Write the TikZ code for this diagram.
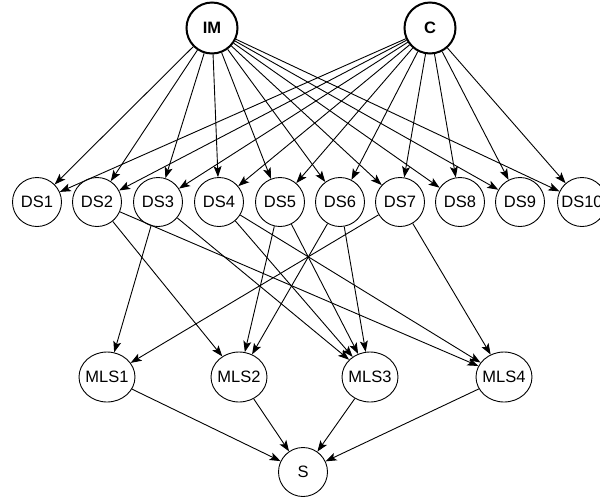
\documentclass[tikz,border=0pt]{standalone}
\usepackage{fontspec}
\setmainfont{Liberation Sans}
\usetikzlibrary{arrows.meta,shapes.geometric}
\begin{document}
\begin{tikzpicture}[x=1pt,y=-1pt,
  txt/.style={font=\fontsize{16.5}{19}\selectfont},
  nd/.style={circle,draw,line width=0.9pt,minimum size=49pt,inner sep=0pt,txt},
  topnd/.style={circle,draw,line width=2pt,minimum size=51pt,inner sep=0pt,font=\bfseries\fontsize{16.5}{19}\selectfont},
  mls/.style={ellipse,draw,line width=0.9pt,minimum width=56pt,minimum height=50pt,inner sep=0pt},
  arr/.style={-{Stealth[length=11pt,width=8pt,inset=2.5pt]},line width=0.9pt}]
\useasboundingbox (0,0) rectangle (600,499);
\fill[white] (0,0) rectangle (600,499);
\node[topnd] (im) at (212,28) {IM};
\node[topnd] (c) at (430,28) {C};
\node[nd] (d1) at (37,202) {DS1};
\node[nd] (d2) at (97,202) {DS2};
\node[nd] (d3) at (158,202) {DS3};
\node[nd] (d4) at (219,202) {DS4};
\node[nd] (d5) at (280,202) {DS5};
\node[nd] (d6) at (340,202) {DS6};
\node[nd] (d7) at (400,202) {DS7};
\node[nd] (d8) at (460,202) {DS8};
\node[nd] (d9) at (520,202) {DS9};
\node[nd] (d10) at (582,202) {DS10};
\node[mls,label={[txt]center:MLS1}] (m1) at (107,377) {};
\node[mls,label={[txt]center:MLS2}] (m2) at (239,377) {};
\node[mls,label={[txt]center:MLS3}] (m3) at (370,377) {};
\node[mls,label={[txt]center:MLS4}] (m4) at (504,377) {};
\node[nd] (s) at (303,472) {S};
\foreach \i in {1,...,10} {
  \draw[arr] (im) -- (d\i);
  \draw[arr] (c) -- (d\i);
}
\draw[arr] (d2) -- (m2);
\draw[arr] (d2) -- (m4);
\draw[arr] (d3) -- (m1);
\draw[arr] (d3) -- (m3);
\draw[arr] (d4) -- (m3);
\draw[arr] (d4) -- (m4);
\draw[arr] (d5) -- (m2);
\draw[arr] (d5) -- (m3);
\draw[arr] (d6) -- (m2);
\draw[arr] (d6) -- (m3);
\draw[arr] (d7) -- (m1);
\draw[arr] (d7) -- (m4);
\foreach \i in {1,...,4} {
  \draw[arr] (m\i) -- (s);
}
\end{tikzpicture}
\end{document}
